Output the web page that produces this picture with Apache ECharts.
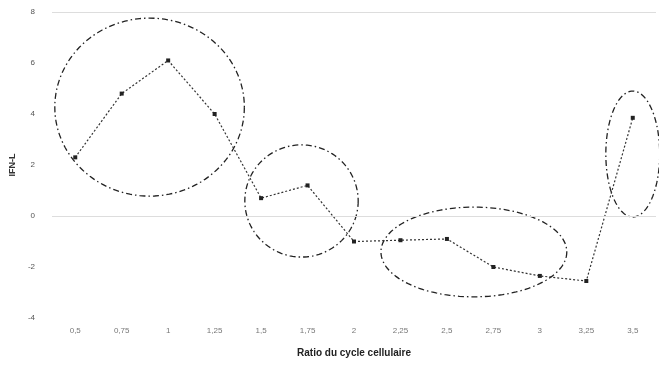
<!DOCTYPE html>
<html>
<head>
<meta charset="utf-8">
<script src="https://cdn.jsdelivr.net/npm/echarts@6/dist/echarts.min.js"></script>
<style>
  html, body { margin: 0; padding: 0; background: #fff; }
  #chart { width: 659px; height: 365px; }
</style>
</head>
<body>
<div id="chart"></div>
<script>
// Sample points along the cycle
const categories = ['0,5', '0,75', '1', '1,25', '1,5', '1,75', '2', '2,25', '2,5', '2,75', '3', '3,25', '3,5'];
const values = [2.3, 4.8, 6.1, 4.0, 0.7, 1.2, -1.0, -0.95, -0.9, -2.0, -2.35, -2.55, 3.85];

// Groupings outlined with dashed ellipses: [centre index, centre value, radius in categories, radius in value units]
const groupCentreIdx = [1.6, 4.87, 8.58, 12.0];
const groupCentreVal = [4.27, 0.59, -1.41, 2.43];
const groupRadiusIdx = [2.04, 1.22, 2.0, 0.58];
const groupRadiusVal = [3.49, 2.2, 1.76, 2.47];

const yMin = -4, yMax = 8, yStep = 2;
const referenceLines = [0, 8];

const groups = groupCentreIdx.map((c, i) => [c, groupCentreVal[i], groupRadiusIdx[i], groupRadiusVal[i]]);

const chart = echarts.init(document.getElementById('chart'));
chart.setOption({
  animation: false,
  grid: { left: 44, right: 3, top: 12, bottom: 47 },
  xAxis: {
    type: 'category',
    data: categories,
    boundaryGap: true,
    axisLine: { show: false },
    axisTick: { show: false },
    axisLabel: { color: '#777', fontSize: 8, margin: 9, fontFamily: 'Liberation Sans' },
    name: 'Ratio du cycle cellulaire',
    nameLocation: 'middle',
    nameGap: 30,
    nameTextStyle: { color: '#222', fontSize: 10, fontWeight: 'bold', fontFamily: 'Liberation Sans' }
  },
  yAxis: {
    type: 'value',
    min: yMin, max: yMax, interval: yStep,
    axisLine: { show: false },
    axisTick: { show: false },
    splitLine: { show: false },
    axisLabel: { color: '#555', fontSize: 8, margin: 17, fontFamily: 'Liberation Sans' },
    name: 'IFN-L',
    nameLocation: 'middle',
    nameGap: 34,
    nameRotate: 90,
    nameTextStyle: { color: '#333', fontSize: 9, fontWeight: 'bold', fontFamily: 'Liberation Sans' }
  },
  series: [
    {
      type: 'line',
      data: values,
      symbol: 'rect',
      symbolSize: 4,
      itemStyle: { color: '#222' },
      lineStyle: { color: '#333', width: 1.2, type: [2, 2] },
      markLine: {
        silent: true,
        symbol: 'none',
        label: { show: false },
        lineStyle: { color: '#ddd', type: 'solid', width: 1 },
        data: referenceLines.map(v => ({ yAxis: v }))
      },
      z: 3
    },
    {
      type: 'custom',
      data: groups,
      silent: true,
      z: 2,
      renderItem: function (params, api) {
        const p0 = api.coord([0, 0]);
        const p1 = api.coord([1, 0]);
        const step = p1[0] - p0[0];
        const cx = p0[0] + api.value(0) * step;
        const cy = api.coord([0, api.value(1)])[1];
        const rx = api.value(2) * step;
        const ry = Math.abs(api.coord([0, api.value(1) + api.value(3)])[1] - cy);
        const pts = [];
        for (let k = 0; k <= 120; k++) {
          const t = k / 120 * Math.PI * 2;
          pts.push([cx + rx * Math.cos(t), cy + ry * Math.sin(t)]);
        }
        return {
          type: 'polyline',
          shape: { points: pts },
          style: { fill: null, stroke: '#222', lineWidth: 1.3, lineDash: [6, 3, 1.5, 3] }
        };
      }
    }
  ]
});
</script>
</body>
</html>
